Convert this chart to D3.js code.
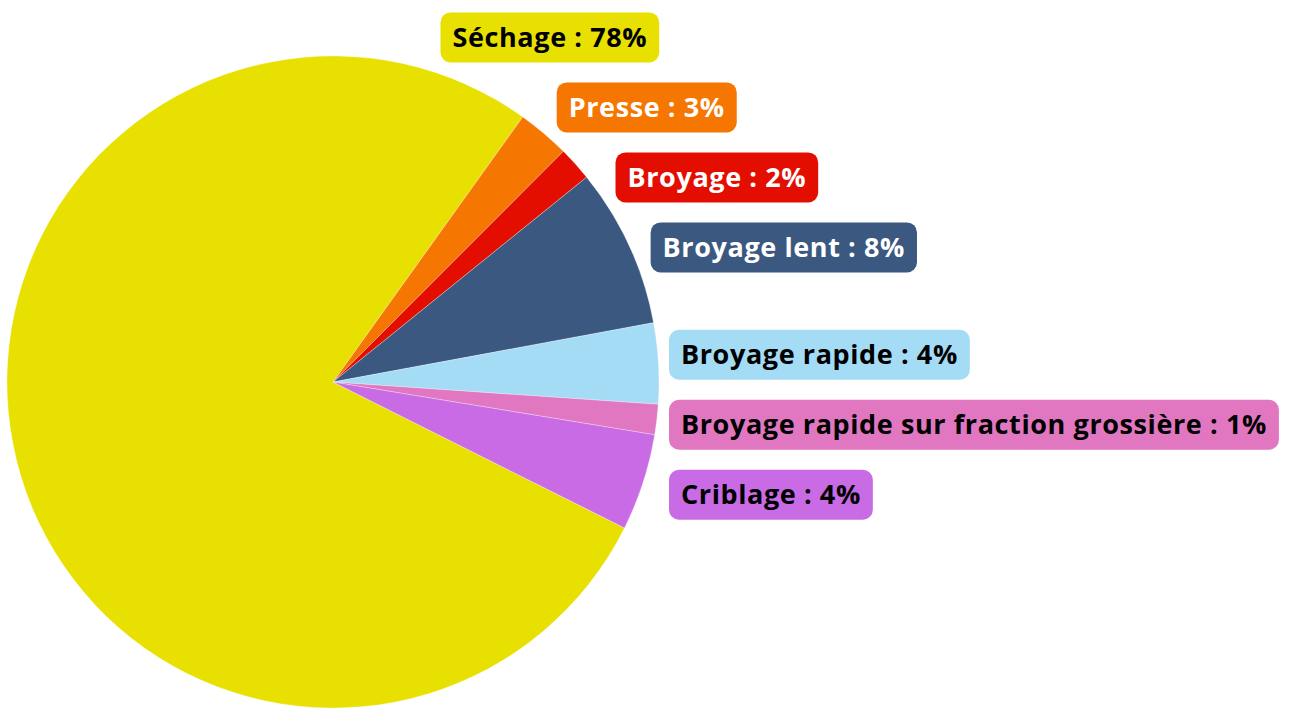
<!DOCTYPE html>
<html>
<head>
<meta charset="utf-8">
<script src="https://cdn.jsdelivr.net/npm/d3@7"></script>
<style>
  html, body { margin: 0; padding: 0; background: #fff; }
  svg { display: block; }
  .label-text { font-family: "Open Sans", "Noto Sans", sans-serif; font-weight: 700; letter-spacing: 0.6px; }
</style>
</head>
<body>
<svg id="chart"></svg>
<script>
// Data
const categories = ["Séchage", "Presse", "Broyage", "Broyage lent", "Broyage rapide",
    "Broyage rapide sur fraction grossière", "Criblage"];
const values = [77.5, 2.6, 1.7, 7.9, 4.0, 1.5, 4.8];
const shownPercents = [78, 3, 2, 8, 4, 1, 4];

// Palette
const sliceColors = ["#e8e000", "#f57600", "#e30e00", "#3a5880", "#a4dbf5", "#e077c0", "#c86be5"];
const textColors = ["#000", "#fff", "#fff", "#fff", "#000", "#000", "#000"];

const width = 1289;
const height = 721;
const cx = 333;
const cy = 382;
const radius = 326;

const svg = d3.select('#chart')
    .attr('width', width)
    .attr('height', height);

const rows = categories.map((c, i) => ({ name: c, value: values[i], pct: shownPercents[i], i }));

// Pie, Séchage starts on the lower right and wraps round the left side
const startDeg = 116.6;
const pie = d3.pie()
    .sort(null)
    .value(d => d.value)
    .startAngle(startDeg * Math.PI / 180)
    .endAngle((startDeg + 360) * Math.PI / 180);

const arcs = pie(rows);
const arc = d3.arc().innerRadius(0).outerRadius(radius);

const g = svg.append('g').attr('transform', `translate(${cx},${cy})`);

g.selectAll('path.slice')
    .data(arcs)
    .join('path')
    .attr('class', 'slice')
    .attr('d', arc)
    .attr('fill', d => sliceColors[d.data.i])
    .attr('stroke', '#fff')
    .attr('stroke-width', 0.5)
    .attr('stroke-opacity', 0.6);

// ===================================================================
// LABELS
// ===================================================================
const labelR = radius + 24;
const gap = 70;
const boxH = 50;
const padX = 12;

// Ideal y from the slice middle; labels whose slice sits on the left go on top
const labels = arcs.map(d => {
    const mid = (d.startAngle + d.endAngle) / 2;
    const onRight = Math.sin(mid) > 0;
    const y = onRight ? -labelR * Math.cos(mid) : -radius + 15;
    return { d, mid, y };
}).sort((a, b) => a.y - b.y);

// Relax overlaps
for (let k = 0; k < 200; k++) {
    let moved = false;
    for (let i = 1; i < labels.length; i++) {
        const diff = labels[i].y - labels[i - 1].y;
        if (diff < gap) {
            const shift = (gap - diff) / 2;
            labels[i - 1].y -= shift;
            labels[i].y += shift;
            moved = true;
        }
    }
    if (!moved) break;
}

// Left edge follows an oval round the pie, stopping just right of it
const ovalA = 342;
const ovalB = 363;
labels.forEach(l => {
    const t = 1 - (l.y / ovalB) ** 2;
    const oval = ovalA * Math.sqrt(Math.max(0, t));
    l.x = l.y >= 0 ? radius + 10 : Math.min(radius + 10, oval);
});

const lg = g.selectAll('g.label')
    .data(labels)
    .join('g')
    .attr('class', 'label')
    .attr('transform', l => `translate(${l.x},${l.y})`);

const rects = lg.append('rect')
    .attr('y', -boxH / 2)
    .attr('height', boxH)
    .attr('rx', 10)
    .attr('ry', 10)
    .attr('fill', l => sliceColors[l.d.data.i]);

const texts = lg.append('text')
    .attr('class', 'label-text')
    .attr('x', padX)
    .attr('dy', '0.35em')
    .style('font-size', '27px')
    .attr('fill', l => textColors[l.d.data.i])
    .text(l => `${l.d.data.name} : ${l.d.data.pct}%`);

texts.each(function (l) {
    l.tw = this.getComputedTextLength();
});
rects.attr('width', l => l.tw + padX * 2);
</script>
</body>
</html>
